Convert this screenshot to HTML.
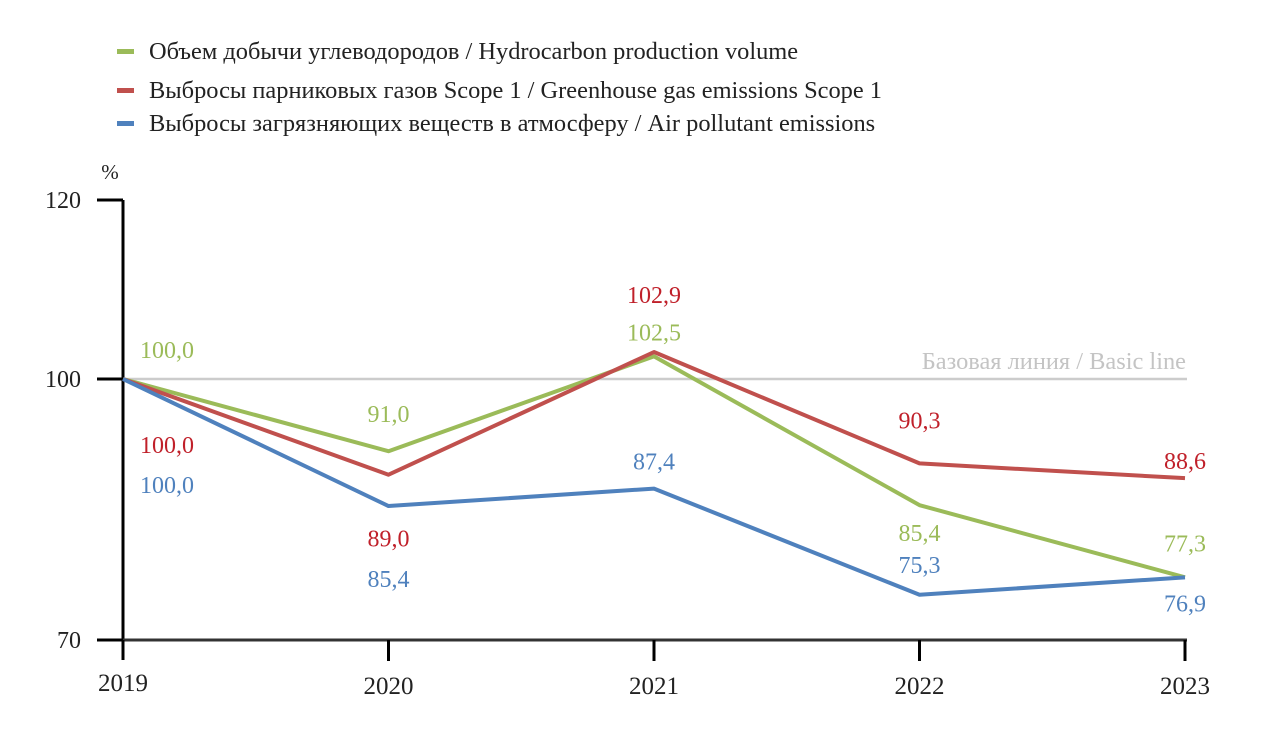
<!DOCTYPE html>
<html><head><meta charset="utf-8"><style>
body{margin:0;background:#fff;width:1264px;height:732px;overflow:hidden}
svg{font-family:"Liberation Serif","DejaVu Serif",serif}
</style></head><body>
<svg id="c" width="1264" height="732">
<g>
<g><rect x="117" y="49" width="17" height="5" fill="#9bbb59"/><text x="149" y="59" font-size="24.4" fill="#222">Объем добычи углеводородов / Hydrocarbon production volume</text></g>
<g><rect x="117" y="88" width="17" height="5" fill="#c0504d"/><text x="149" y="98" font-size="24.4" fill="#222">Выбросы парниковых газов Scope 1 / Greenhouse gas emissions Scope 1</text></g>
<g><rect x="117" y="121" width="17" height="5" fill="#4f81bd"/><text x="149" y="131" font-size="24.4" fill="#222">Выбросы загрязняющих веществ в атмосферу / Air pollutant emissions</text></g>
</g>
<text x="110" y="179" font-size="21" text-anchor="middle" fill="#222">%</text>
<g id="plot"></g>
</svg>
<script>
const years=['2019','2020','2021','2022','2023'];
const production=[100.0,91.7,102.6,85.5,77.2];
const ghg=[100.0,89.0,103.1,90.3,88.6];
const air=[100.0,85.4,87.4,75.2,77.2];
const productionLabels=['100,0','91,0','102,5','85,4','77,3'];
const ghgLabels=['100,0','89,0','102,9','90,3','88,6'];
const airLabels=['100,0','85,4','87,4','75,3','76,9'];
const yTicks=[120,100,70];
const baseline=100;

const NS='http://www.w3.org/2000/svg';
const g=document.getElementById('plot');
const x0=123,x1=1185,yTop=205,yBot=640,vMin=70,vMax=120;
function xs(i){return x0+(x1-x0)*i/(years.length-1);}
function ys(v){return yBot-(v-vMin)*(yBot-yTop)/(vMax-vMin);}
function el(t,a){const e=document.createElementNS(NS,t);for(const k in a)e.setAttribute(k,a[k]);g.appendChild(e);return e;}

let bl=el('line',{x1:x0,x2:1187,y1:ys(baseline),y2:ys(baseline),stroke:'#cccccc','stroke-width':2.5});


let blt=el('text',{x:1186,y:ys(baseline)-10,'font-size':24.4,fill:'#c4c4c4','text-anchor':'end'});
blt.textContent='Базовая линия / Basic line';



let ya=el('line',{x1:x0,x2:x0,y1:200,y2:660,stroke:'#000','stroke-width':3});


let xa=el('line',{x1:x0,x2:1187,y1:yBot,y2:yBot,stroke:'#333','stroke-width':3});


yTicks.forEach(v=>{
  const yy=v===120?200:ys(v);
  let t=el('line',{x1:97,x2:x0,y1:yy,y2:yy,stroke:'#000','stroke-width':3});
  
  
  let l=el('text',{x:81,y:yy+8,'font-size':24,fill:'#222','text-anchor':'end'});
  l.textContent=v;
  
  
});
years.forEach((yr,i)=>{
  let t=el('line',{x1:xs(i),x2:xs(i),y1:yBot,y2:i===0?658:661,stroke:'#000','stroke-width':3});
  
  
  let l=el('text',{x:xs(i),y:i===0?691:694,'font-size':25,fill:'#222','text-anchor':'middle'});
  l.textContent=yr;
  
  
});
const series=[
 {name:'production',vals:production,labs:productionLabels,color:'#9bbb59',tc:'#9bbb59',pos:[[44,-21],[0,-29],[0,-16],[0,36],[0,-26]]},
 {name:'ghg',vals:ghg,labs:ghgLabels,color:'#c0504d',tc:'#c0202a',pos:[[44,74],[0,72],[0,-49],[0,-35],[0,-9]]},
 {name:'air',vals:air,labs:airLabels,color:'#4f81bd',tc:'#4f81bd',pos:[[44,114],[0,81],[0,-19],[0,-22],[0,34]]}
];
series.forEach(s=>{
  const pts=s.vals.map((v,i)=>xs(i)+','+ys(v)).join(' ');
  let p=el('polyline',{points:pts,fill:'none',stroke:s.color,'stroke-width':4,'stroke-linejoin':'round'});
  
  
  s.vals.forEach((v,i)=>{
    const bx=xs(i)+s.pos[i][0], by=(i===0?ys(baseline):ys(v))+s.pos[i][1];
    let t=el('text',{x:bx,y:by,'font-size':24,fill:s.tc,'text-anchor':'middle'});
    t.textContent=s.labs[i];
    
    
  });
});
</script>
</body></html>
